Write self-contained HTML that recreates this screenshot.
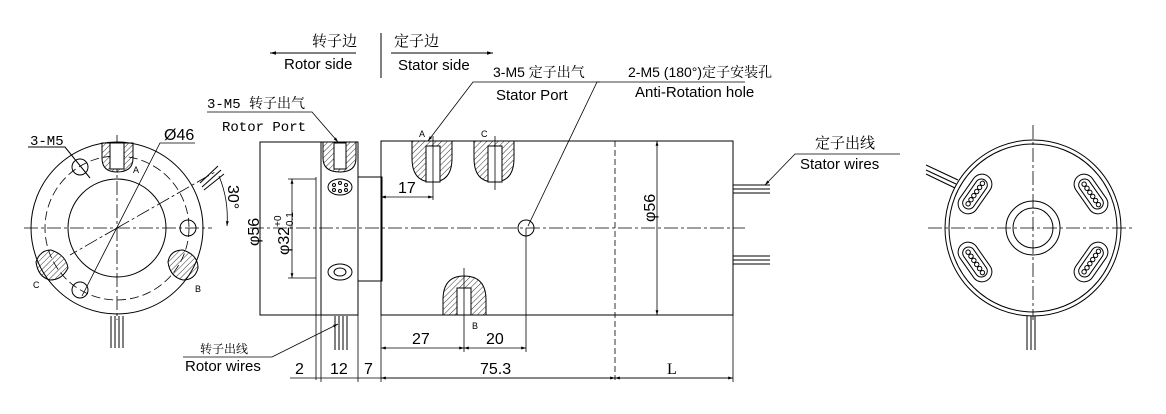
<!DOCTYPE html>
<html><head><meta charset="utf-8"><style>
html,body{margin:0;padding:0;background:#fff}
svg{display:block}
text{font-family:"Liberation Sans","Noto Sans CJK SC",sans-serif;fill:#000}
.cn{font-family:"Liberation Serif","Noto Serif CJK SC",serif}
.mono{font-family:"Liberation Mono","Noto Sans CJK SC",monospace}
</style></head><body>
<svg width="1166" height="414" viewBox="0 0 1166 414" xmlns="http://www.w3.org/2000/svg">
<defs>
<pattern id="h" width="4" height="4" patternUnits="userSpaceOnUse" patternTransform="rotate(45)"><line x1="0" y1="0" x2="0" y2="4" stroke="#000" stroke-width="0.8"/></pattern>
<marker id="ar" viewBox="0 0 10 10" refX="10" refY="5" markerWidth="8" markerHeight="6" orient="auto-start-reverse"><path d="M0,2 L10,5 L0,8z" fill="#000"/></marker>
<g id="slot"><rect x="-22" y="-10" width="44" height="20" rx="10"/><rect x="-17" y="-6" width="34" height="12" rx="6"/>
<circle cx="-12" cy="0" r="2.2"/><circle cx="-7" cy="0" r="2.2"/><circle cx="-2" cy="0" r="2.2"/><circle cx="3" cy="0" r="2.2"/><circle cx="8" cy="0" r="2.2"/><circle cx="13" cy="0" r="2.2"/></g>
</defs>
<g stroke="#000" fill="none" stroke-width="1">
<!-- LEFT VIEW -->
<circle cx="117" cy="228" r="86"/>
<circle cx="117" cy="228" r="49"/>
<circle cx="117" cy="228" r="72" stroke-dasharray="9,4" stroke-width="0.8"/>
<line x1="24" y1="228" x2="212" y2="228" stroke-dasharray="14,3,3,3" stroke-width="0.8"/>
<line x1="117" y1="135" x2="117" y2="320" stroke-dasharray="14,3,3,3" stroke-width="0.8"/>
<line x1="117" y1="228" x2="215" y2="172" stroke-dasharray="14,3,3,3" stroke-width="0.8"/>
<line x1="117" y1="228" x2="70" y2="255" stroke-dasharray="14,3,3,3" stroke-width="0.8"/>
<path d="M102,143 L102,158 Q102,172 117,172 Q133,172 133,158 L133,143z" fill="url(#h)"/>
<rect x="110" y="143" width="14" height="26" fill="#fff"/>
<path d="M183,250 Q198,255 198,268 Q195,280 183,280 Q170,277 168,262 Q170,250 183,250z" fill="url(#h)"/>
<path d="M51,250 Q66,255 68,268 Q62,280 50,280 Q38,277 36,262 Q40,250 51,250z" fill="url(#h)"/>
<circle cx="80" cy="167" r="8"/><circle cx="188" cy="228" r="8"/><circle cx="80" cy="290" r="8"/>
<path d="M200,183 L218,166 M202,187 L221,170 M204,190 L224,174"/>
<path d="M111,316 V348 M115,316 V348 M119,316 V348 M123,316 V348"/>
<path d="M219,176 A110,110 0 0 1 227,226" marker-end="url(#ar)" stroke-width="0.8"/>
<!-- leaders left -->
<path d="M28,147 H65 L90,178"/>
<path d="M195,143 H160 L82,296" stroke-width="0.8"/>
<!-- SIDE VIEW rotor -->
<rect x="260" y="142" width="61" height="173"/>
<rect x="321" y="142" width="37" height="173"/>
<path d="M323,142 V158 Q323,172 340,172 Q356,172 356,158 V142z" fill="url(#h)"/>
<rect x="334" y="143" width="12" height="26" fill="#fff"/>
<ellipse cx="340" cy="187" rx="12" ry="8"/>
<circle cx="334" cy="185" r="1.5"/><circle cx="340" cy="183" r="1.5"/><circle cx="346" cy="185" r="1.5"/><circle cx="334" cy="190" r="1.5"/><circle cx="340" cy="191" r="1.5"/><circle cx="346" cy="190" r="1.5"/>
<ellipse cx="340" cy="272" rx="12" ry="8"/><ellipse cx="340" cy="272" rx="6" ry="4"/>
<rect x="358" y="177" width="24" height="104"/>
<line x1="316" y1="177" x2="316" y2="380" stroke-width="0.8"/>
<line x1="292" y1="179" x2="292" y2="278" marker-start="url(#ar)" marker-end="url(#ar)" stroke-width="0.8"/>
<line x1="288" y1="179" x2="316" y2="179" stroke-width="0.8"/><line x1="288" y1="278" x2="316" y2="278" stroke-width="0.8"/>
<path d="M335,316 V350 M339,316 V350 M343,316 V350 M347,316 V350"/>
<!-- stator body -->
<rect x="381" y="141" width="352" height="174"/>
<line x1="250" y1="228" x2="745" y2="228" stroke-dasharray="14,3,3,3" stroke-width="0.8"/>
<line x1="615" y1="141" x2="615" y2="380" stroke-dasharray="6,3" stroke-width="0.8"/>
<line x1="657" y1="141" x2="657" y2="315" marker-start="url(#ar)" marker-end="url(#ar)" stroke-width="0.8"/>
<path d="M412,141 V158 Q412,182 432,182 Q452,182 452,158 V141z" fill="url(#h)"/>
<rect x="426" y="146" width="14" height="36" fill="#fff"/>
<path d="M474,141 V158 Q474,182 494,182 Q514,182 514,158 V141z" fill="url(#h)"/>
<rect x="488" y="146" width="14" height="36" fill="#fff"/>
<line x1="433" y1="136" x2="433" y2="200" stroke-width="0.8"/><line x1="495" y1="136" x2="495" y2="190" stroke-width="0.8"/>
<path d="M443,315 V300 Q443,276 464,276 Q486,276 486,300 V315z" fill="url(#h)"/>
<rect x="457" y="288" width="14" height="27" fill="#fff"/>
<line x1="464" y1="268" x2="464" y2="352" stroke-width="0.8"/>
<circle cx="526" cy="228" r="8"/>
<line x1="526" y1="228" x2="526" y2="352" stroke-width="0.8"/>
<path d="M733,185 H770 M733,189 H770 M733,193 H770 M733,256 H770 M733,260 H770 M733,264 H770"/>
<!-- dims -->
<line x1="381" y1="197" x2="433" y2="197" marker-start="url(#ar)" marker-end="url(#ar)" stroke-width="0.8"/>
<line x1="381" y1="348" x2="464" y2="348" marker-start="url(#ar)" marker-end="url(#ar)" stroke-width="0.8"/>
<line x1="464" y1="348" x2="526" y2="348" marker-start="url(#ar)" marker-end="url(#ar)" stroke-width="0.8"/>
<line x1="381" y1="315" x2="381" y2="382" stroke-width="0.8"/><line x1="733" y1="315" x2="733" y2="382" stroke-width="0.8"/>
<line x1="358" y1="315" x2="358" y2="382" stroke-width="0.8"/><line x1="321" y1="315" x2="321" y2="382" stroke-width="0.8"/>
<line x1="290" y1="378" x2="733" y2="378" stroke-width="0.8"/>
<line x1="381" y1="378" x2="615" y2="378" marker-start="url(#ar)" marker-end="url(#ar)" stroke-width="0.8"/>
<line x1="615" y1="378" x2="733" y2="378" marker-start="url(#ar)" marker-end="url(#ar)" stroke-width="0.8"/>
<!-- leaders -->
<path d="M270,53 H356" marker-start="url(#ar)"/><path d="M391,53 H493" marker-end="url(#ar)"/>
<line x1="381" y1="33" x2="381" y2="78"/>
<path d="M600,82 H473 L428,141" marker-end="url(#ar)" stroke-width="0.8"/>
<path d="M745,82 H597 L528,226" stroke-width="0.8"/>
<path d="M207,112 H312 L338,142" marker-end="url(#ar)" stroke-width="0.8"/>
<path d="M900,154 H795 L765,185" marker-end="url(#ar)" stroke-width="0.8"/>
<path d="M183,357 H272 L338,324" marker-end="url(#ar)" stroke-width="0.8"/>
<!-- RIGHT VIEW -->
<circle cx="1033" cy="228" r="88"/><circle cx="1033" cy="228" r="84"/>
<circle cx="1033" cy="228" r="27"/><circle cx="1033" cy="228" r="20"/>
<line x1="928" y1="228" x2="1135" y2="228" stroke-dasharray="14,3,3,3" stroke-width="0.8"/>
<line x1="1033" y1="125" x2="1033" y2="320" stroke-dasharray="14,3,3,3" stroke-width="0.8"/>
<use href="#slot" transform="translate(975,194) rotate(-55)"/>
<use href="#slot" transform="translate(1091,194) rotate(55)"/>
<use href="#slot" transform="translate(975,262) rotate(55)"/>
<use href="#slot" transform="translate(1091,262) rotate(-55)"/>
<path d="M926,165 L958,180 M926,170 L956,184 M926,174 L955,188"/>
<path d="M1027,316 V350 M1031,316 V350 M1035,316 V350"/>
</g>
<!-- TEXT -->
<text x="312" y="46" font-size="15" class="cn">转子边</text>
<text x="284" y="69" font-size="15">Rotor side</text>
<text x="394" y="46" font-size="15" class="cn">定子边</text>
<text x="398" y="70" font-size="15">Stator side</text>
<text x="493" y="77" font-size="14">3-M5 <tspan class="cn">定子出气</tspan></text>
<text x="496" y="100" font-size="15">Stator Port</text>
<text x="628" y="77" font-size="14">2-M5 (180°)<tspan class="cn">定子安装孔</tspan></text>
<text x="635" y="97" font-size="15">Anti-Rotation hole</text>
<text x="207" y="108" font-size="14" class="mono">3-M5 <tspan class="cn">转子出气</tspan></text>
<text x="222" y="131" font-size="14" class="mono">Rotor Port</text>
<text x="30" y="145" font-size="14" class="mono">3-M5</text>
<text x="164" y="140" font-size="16">Ø46</text>
<text x="133" y="173" font-size="9">A</text><text x="195" y="292" font-size="9">B</text><text x="33" y="288" font-size="9">C</text>
<text transform="translate(228,185) rotate(90)" font-size="16">30°</text>
<text transform="translate(259,246) rotate(-90)" font-size="16">φ56</text>
<text transform="translate(289,255) rotate(-90)" font-size="16">φ32<tspan font-size="10" dy="-8">+0</tspan><tspan font-size="10" dx="-14" dy="12">-0.1</tspan></text>
<text transform="translate(655,222) rotate(-90)" font-size="16">φ56</text>
<text x="419" y="137" font-size="9">A</text><text x="481" y="137" font-size="9">C</text><text x="472" y="329" font-size="9">B</text>
<text x="398" y="193" font-size="16">17</text>
<text x="412" y="344" font-size="16">27</text><text x="486" y="344" font-size="16">20</text>
<text x="295" y="374" font-size="16">2</text><text x="330" y="374" font-size="16">12</text><text x="364" y="374" font-size="16">7</text>
<text x="480" y="374" font-size="16">75.3</text><text x="667" y="374" font-size="16" class="cn">L</text>
<text x="815" y="148" font-size="15" class="cn">定子出线</text>
<text x="800" y="169" font-size="15">Stator wires</text>
<text x="200" y="353" font-size="12" class="cn">转子出线</text>
<text x="185" y="371" font-size="15">Rotor wires</text>
</svg>
</body></html>
